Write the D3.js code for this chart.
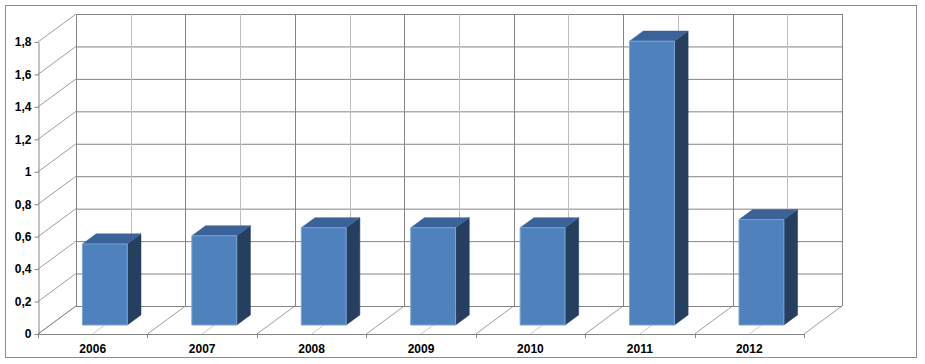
<!DOCTYPE html>
<html>
<head>
<meta charset="utf-8">
<script src="https://cdn.jsdelivr.net/npm/d3@7"></script>
<style>
  html, body { margin: 0; padding: 0; background: #fff; }
  svg { display: block; }
  text { font-family: "Liberation Sans", Arial, sans-serif; font-weight: bold; font-size: 12px; fill: #000; }
</style>
</head>
<body>
<svg id="chart" width="925" height="364"></svg>
<script>
// ---- data ----
const categories = ["2006", "2007", "2008", "2009", "2010", "2011", "2012"];
const values = [0.5, 0.55, 0.6, 0.6, 0.6, 1.75, 0.65];
const yTicks = [0, 0.2, 0.4, 0.6, 0.8, 1, 1.2, 1.4, 1.6, 1.8];

(function () {
// ---- layout ----
const plotL = 38, plotR = 804, plotT = 42, plotB = 334;
const depthDX = 38, depthDY = -28;      // full floor depth offset
const barF1 = 0.32, barF2 = 0.68;       // bar depth (fraction of floor depth)
const barWidthFrac = 0.41;

const svg = d3.select("#chart");

const x = d3.scaleBand().domain(categories).range([plotL, plotR]).padding(0);
const y = d3.scaleLinear().domain([0, 1.8]).range([plotB, plotT]);
const bw = x.bandwidth();

// project a front-plane point back by depth fraction f
const P = (px, py, f) => [px + depthDX * f, py + depthDY * f];

// outer border
svg.append("rect").attr("x", 5.5).attr("y", 5.5).attr("width", 911).attr("height", 352)
  .attr("fill", "#fff").attr("stroke", "#8c8c8c").attr("stroke-width", 1);

const grid = svg.append("g").attr("fill", "none");
const dark = "#858585", light = "#bdbdbd";

// back wall horizontal gridlines + diagonal side-wall lines
yTicks.forEach(t => {
  const [bx0, by] = P(plotL, y(t), 1);
  const [bx1] = P(plotR, y(t), 1);
  grid.append("line").attr("x1", bx0).attr("y1", by + 0.5).attr("x2", bx1).attr("y2", by + 0.5)
    .attr("stroke", dark);
  grid.append("line").attr("x1", plotL).attr("y1", y(t)).attr("x2", bx0).attr("y2", by)
    .attr("stroke", dark).attr("stroke-width", 0.8);
});

// back wall verticals: category boundaries (dark) and centers (light)
const wallXs = [];
categories.forEach(c => { wallXs.push([x(c), dark]); wallXs.push([x(c) + bw / 2, light]); });
wallXs.push([plotR, dark]);
wallXs.forEach(([xx, col]) => {
  const [bx, by0] = P(xx, y(0), 1);
  const [, by1] = P(xx, y(1.8), 1);
  grid.append("line").attr("x1", Math.round(bx) + 0.5).attr("y1", by0).attr("x2", Math.round(bx) + 0.5).attr("y2", by1)
    .attr("stroke", col);
});

// floor diagonals
wallXs.forEach(([xx, col]) => {
  const [bx, by] = P(xx, y(0), 1);
  grid.append("line").attr("x1", xx).attr("y1", y(0)).attr("x2", bx).attr("y2", by)
    .attr("stroke", col).attr("stroke-width", 0.8);
});

// front floor edge
grid.append("line").attr("x1", plotL).attr("y1", plotB + 0.5).attr("x2", plotR).attr("y2", plotB + 0.5)
  .attr("stroke", dark);
// category boundary ticks
wallXs.filter(d => d[1] === dark).forEach(([xx]) => {
  grid.append("line").attr("x1", Math.round(xx) + 0.5).attr("y1", plotB).attr("x2", Math.round(xx) + 0.5).attr("y2", plotB + 4)
    .attr("stroke", dark);
});

// y axis
const yAxis = d3.axisLeft(y).tickValues(yTicks).tickSize(4).tickSizeOuter(0).tickPadding(3)
  .tickFormat(v => String(+v.toFixed(1)).replace(".", ","));
const gy = svg.append("g").attr("transform", `translate(${plotL + 0.5},0)`).call(yAxis);
gy.select(".domain").attr("stroke", dark);
gy.selectAll(".tick line").attr("stroke", dark);
gy.selectAll("text").style("font-family", "'Liberation Sans', Arial, sans-serif")
  .style("font-weight", "bold").style("font-size", "12px").attr("fill", "#000");

// x axis labels
const xAxis = d3.axisBottom(x).tickSize(0).tickPadding(10);
const gx = svg.append("g").attr("transform", `translate(0,${plotB})`).call(xAxis);
gx.select(".domain").remove();
gx.selectAll("text").style("font-family", "'Liberation Sans', Arial, sans-serif")
  .style("font-weight", "bold").style("font-size", "12px").attr("fill", "#000");

// bars
const bars = svg.append("g");
categories.forEach((c, i) => {
  const v = values[i];
  const cx = x(c) + bw / 2;
  const w = bw * barWidthFrac;
  const x0 = cx - w / 2, x1 = cx + w / 2;
  const y0 = y(0), y1 = y(v);
  const a = P(x0, y1, barF1), b = P(x1, y1, barF1), c1 = P(x1, y0, barF1), d = P(x0, y0, barF1);
  const a2 = P(x0, y1, barF2), b2 = P(x1, y1, barF2), c2 = P(x1, y0, barF2);
  const poly = pts => pts.map(p => p.join(",")).join(" ");
  bars.append("polygon").attr("points", poly([b, b2, c2, c1])).attr("fill", "#263f5f").attr("stroke", "#263f5f").attr("stroke-width", 0.5);
  bars.append("polygon").attr("points", poly([a, a2, b2, b])).attr("fill", "#3c629a").attr("stroke", "#3c629a").attr("stroke-width", 0.5);
  bars.append("polygon").attr("points", poly([a, b, c1, d])).attr("fill", "#4f81bd").attr("stroke", "#7ba3d6").attr("stroke-width", 1);
});
})();
</script>
</body>
</html>
